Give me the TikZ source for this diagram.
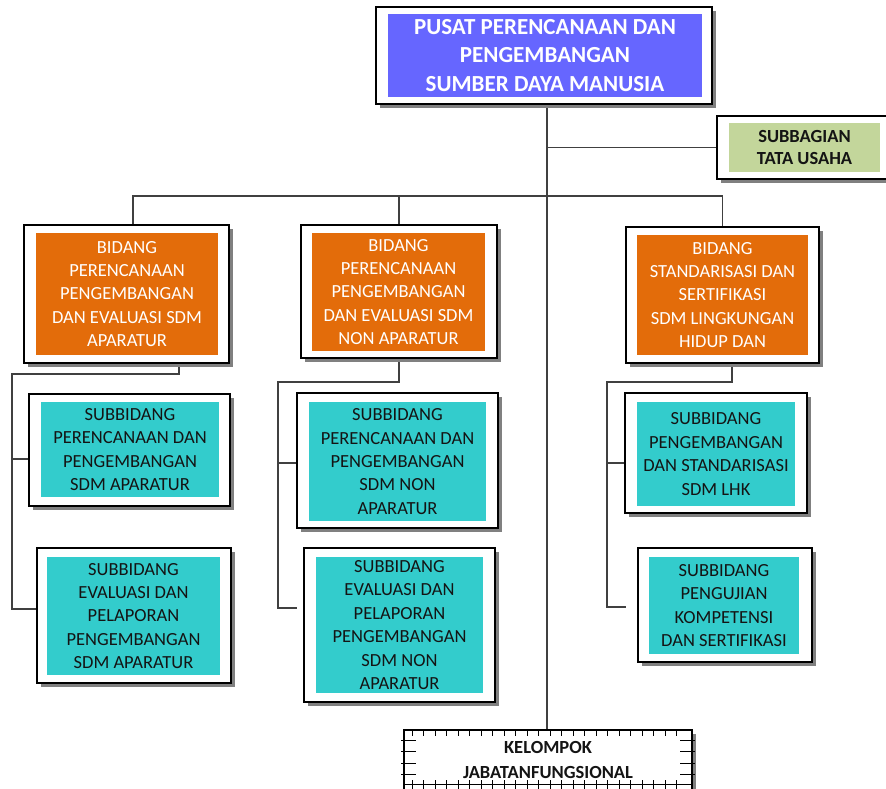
\documentclass[tikz,border=0pt]{standalone}
\usepackage{fontspec}
\setmainfont{Carlito}
\usetikzlibrary{shadows,backgrounds}
\definecolor{cblue}{RGB}{102,102,255}
\definecolor{corange}{RGB}{227,108,10}
\definecolor{cteal}{RGB}{51,204,204}
\definecolor{cgreen}{RGB}{195,214,155}
\definecolor{cshadow}{RGB}{128,128,128}
\definecolor{cline}{RGB}{64,64,64}
\definecolor{ctext}{RGB}{20,20,20}
\tikzset{
 frame/.style={draw=black, line width=1.3pt, fill=white, inner sep=0pt, outer sep=0pt,
   drop shadow={shadow xshift=4pt, shadow yshift=-4pt, fill=cshadow, opacity=1}},
 inbox/.style={inner sep=0pt, outer sep=0pt, align=center, font=\fontsize{18.5}{23.4}\selectfont},
 headbox/.style={inbox, fill=cblue, text=white, font=\bfseries\fontsize{23}{28.5}\selectfont},
 bidbox/.style={inbox, fill=corange, text=white},
 subbox/.style={inbox, fill=cteal, text=ctext},
 tubox/.style={inbox, fill=cgreen, text=ctext, font=\bfseries\fontsize{18.5}{22}\selectfont},
 kelbox/.style={inbox, text=ctext, font=\bfseries\fontsize{18.5}{24.5}\selectfont},
 conn/.style={draw=cline, line width=1.5pt},
 tickline/.style={draw=black, line width=1pt},
}
\newcommand\placebox[6]{%
 \pgfmathsetmacro\bxW{#4-#2}\pgfmathsetmacro\bxH{#5-#3}%
 \pgfmathsetmacro\bxX{(#2+#4)/2}\pgfmathsetmacro\bxY{(#3+#5)/2}%
 \node[#6, minimum width=\bxW pt, minimum height=\bxH pt] (#1) at (\bxX,\bxY) {};}
\newcommand\placetext[7]{%
 \pgfmathsetmacro\bxW{#4-#2}\pgfmathsetmacro\bxH{#5-#3}%
 \pgfmathsetmacro\bxX{(#2+#4)/2}\pgfmathsetmacro\bxY{(#3+#5)/2}%
 \node[#6, minimum width=\bxW pt, minimum height=\bxH pt] (#1) at (\bxX,\bxY) {#7};}
\begin{document}
\begin{tikzpicture}[x=1pt,y=-1pt]
\useasboundingbox (0,0) rectangle (886,789);
% top
\placebox{top}{376}{7}{712}{104}{frame}
\placetext{topt}{388}{14}{702}{97}{headbox}{PUSAT PERENCANAAN DAN\\PENGEMBANGAN\\SUMBER DAYA MANUSIA}
% subbagian
\placebox{tu}{717}{116}{892}{179}{frame}
\placetext{tut}{729}{123}{880}{172}{tubox}{SUBBAGIAN\\TATA USAHA}
% bidang
\placebox{b1}{24}{225}{229}{363}{frame}
\placetext{b1t}{36}{233}{218}{355}{bidbox}{BIDANG\\PERENCANAAN\\PENGEMBANGAN\\DAN EVALUASI SDM\\APARATUR}
\placebox{b2}{301}{225}{497}{358}{frame}
\placetext{b2t}{312}{233}{485}{351}{bidbox}{BIDANG\\PERENCANAAN\\PENGEMBANGAN\\DAN EVALUASI SDM\\NON APARATUR}
\placebox{b3}{626}{227}{819}{363}{frame}
\placetext{b3t}{637}{235}{808}{355}{bidbox}{BIDANG\\STANDARISASI DAN\\SERTIFIKASI\\SDM LINGKUNGAN\\HIDUP DAN}
% subbidang
\placebox{s1a}{29}{394}{230}{506}{frame}
\placetext{s1at}{41}{402}{219}{497}{subbox}{SUBBIDANG\\PERENCANAAN DAN\\PENGEMBANGAN\\SDM APARATUR}
\placebox{s1b}{37}{548}{231}{683}{frame}
\placetext{s1bt}{47}{557}{220}{675}{subbox}{SUBBIDANG\\EVALUASI DAN\\PELAPORAN\\PENGEMBANGAN\\SDM APARATUR}
\placebox{s2a}{297}{393}{498}{528}{frame}
\placetext{s2at}{309}{402}{486}{521}{subbox}{SUBBIDANG\\PERENCANAAN DAN\\PENGEMBANGAN\\SDM NON\\APARATUR}
\placebox{s2b}{304}{548}{495}{702}{frame}
\placetext{s2bt}{316}{557}{483}{693}{subbox}{SUBBIDANG\\EVALUASI DAN\\PELAPORAN\\PENGEMBANGAN\\SDM NON\\APARATUR}
\placebox{s3a}{625}{393}{807}{513}{frame}
\placetext{s3at}{637}{402}{795}{506}{subbox}{SUBBIDANG\\PENGEMBANGAN\\DAN STANDARISASI\\SDM LHK}
\placebox{s3b}{638}{548}{812}{662}{frame}
\placetext{s3bt}{649}{557}{799}{654}{subbox}{SUBBIDANG\\PENGUJIAN\\KOMPETENSI\\DAN SERTIFIKASI}
% kelompok
\placebox{kel}{404}{730}{692}{792}{frame}
\foreach \x in {412,423.5,...,686} \draw[tickline] (\x,730) -- (\x,736);
\foreach \y in {740,751.5,763,774.5} {\draw[tickline] (401,\y) -- (416,\y); \draw[tickline] (680,\y) -- (695,\y);}
\draw[tickline] (404,784) -- (692,784);
\foreach \x in {412,423.5,...,686} \draw[tickline] (\x,780) -- (\x,789);
\placetext{kelt}{420}{736}{676}{784}{kelbox}{KELOMPOK\\JABATANFUNGSIONAL}
% connectors
\coordinate (bus) at (547,196);
\coordinate (j1) at (12,374);
\coordinate (j2) at (278,382);
\coordinate (j3) at (607,382);
\begin{scope}[on background layer]
\fill[white] (0,0) rectangle (886,789);
\draw[conn] (top.south -| bus) -- (kel.north -| bus);
\draw[conn] (tu.west) -- (tu.west -| bus);
\draw[conn] ([xshift=6.5pt]b1.north) |- (bus) -| (b3.north);
\draw[conn] (b2.north) -- (b2.north |- bus);
\draw[conn] ([xshift=52.5pt]b1.south) |- (j1) |- ([yshift=-9pt]s1a.west);
\draw[conn] (j1) |- ([yshift=6.5pt]s1b.west);
\draw[conn] (b2.south) |- (j2) |- ([yshift=-2.5pt]s2a.west);
\draw[conn] (j2) |- ([xshift=-7pt,yshift=17pt]s2b.west);
\draw[conn] ([xshift=9.5pt]b3.south) |- (j3) |- ([yshift=-10pt]s3a.west);
\draw[conn] (j3) |- ([xshift=-12pt,yshift=-2pt]s3b.west);
\end{scope}
\end{tikzpicture}
\end{document}
